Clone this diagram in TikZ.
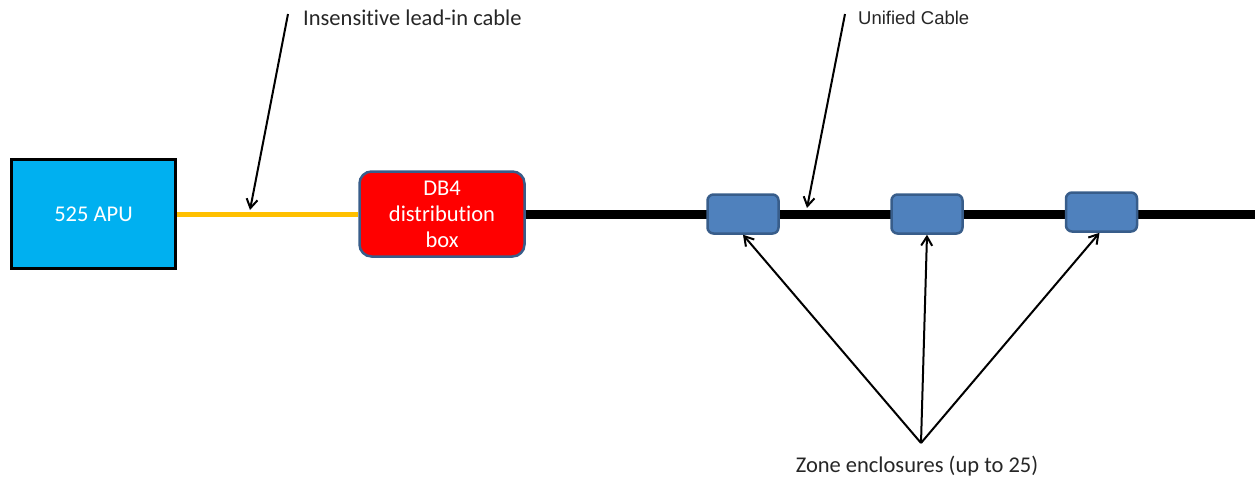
\documentclass[tikz,border=0pt]{standalone}
\usepackage{fontspec}
\setmainfont[Ligatures=NoCommon]{Carlito}
\newfontfamily\arialfont{Liberation Sans}
\usetikzlibrary{arrows.meta}
\definecolor{apublue}{HTML}{00B0F0}
\definecolor{cableyellow}{HTML}{FFC000}
\definecolor{zonefill}{HTML}{4F81BD}
\definecolor{zoneedge}{HTML}{385D8A}
\tikzset{
  px/.style={x=1pt,y=-1pt},
  apubox/.style={draw=black,line width=3pt,fill=apublue,minimum width=164pt,minimum height=109pt,inner sep=0pt,text=white,font=\fontsize{22.5}{26}\selectfont},
  dbbox/.style={draw=zoneedge,line width=2.5pt,fill=red,rounded corners=12pt,minimum width=165pt,minimum height=85pt,inner sep=0pt,text=white,align=center,font=\fontsize{22.5}{26}\selectfont},
  zonebox/.style={draw=zoneedge,line width=2.5pt,fill=zonefill,rounded corners=6pt,minimum width=71pt,minimum height=39pt,inner sep=0pt},
  pointer/.style={line width=2pt,-{Straight Barb[length=9pt,width=11pt,line width=2pt]}},
  lbl/.style={font=\fontsize{22.5}{26}\selectfont,text=black!85,inner sep=0pt},
}
\begin{document}
\begin{tikzpicture}[px]
\useasboundingbox (0,0) rectangle (1255,480);
% cables
\coordinate (rightend) at (1255,214);
\node[apubox] (apu) at (93.5,214) {525 APU};
\node[dbbox] (db) at (442,214) {DB4\\distribution\\box};
\draw[cableyellow,line width=5pt] (apu.east) -- (db.west);
\draw[black,line width=9pt] (db.east) -- (rightend);
\node[zonebox] (z1) at (743,214) {};
\node[zonebox] (z2) at (927,214) {};
\node[zonebox] (z3) at (1101.5,212) {};
% labels
\node[lbl,anchor=west] (leadlbl) at (303,18) {Insensitive lead-in cable};
\node[lbl,anchor=west,font=\arialfont\fontsize{18.5}{22}\selectfont] (unilbl) at (858,18) {Unified Cable};
\node[lbl,anchor=center] (zonelbl) at (917,466) {Zone enclosures (up to 25)};
% pointer arrows
\coordinate (leadtop) at (288,14);
\coordinate (leadtip) at (250,210);
\coordinate (unitop) at (845,14);
\coordinate (unitip) at (807,208);
\coordinate (zonesrc) at (921,443);
\draw[pointer] (leadtop) -- (leadtip);
\draw[pointer] (unitop) -- (unitip);
\draw[pointer] (zonesrc) -- (z1.south);
\draw[pointer] (zonesrc) -- (z2.south);
\draw[pointer] (zonesrc) -- ([xshift=-2pt]z3.south);
\end{tikzpicture}
\end{document}
